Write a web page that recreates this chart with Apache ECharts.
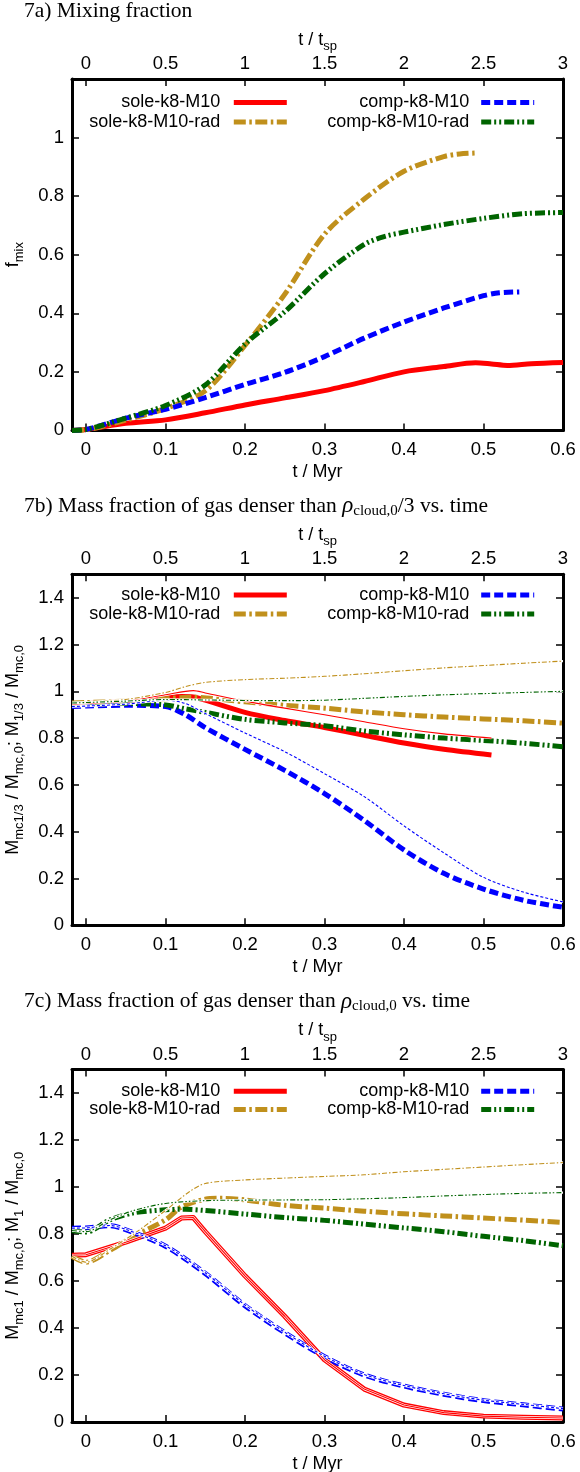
<!DOCTYPE html>
<html>
<head>
<meta charset="utf-8">
<script src="https://cdn.jsdelivr.net/npm/echarts@6/dist/echarts.min.js"></script>
<style>
  html, body { margin: 0; padding: 0; background: #fff; }
  #chart { width: 580px; height: 1472px; }
</style>
</head>
<body>
<div id="chart"></div>
<script>
// ---- axis values --------------------------------------------------------
const tMin = -0.0176, tMax = 0.6;      // t / Myr
const tspMin = -0.088, tspMax = 3;     // t / t_sp  (t_sp = 0.2 Myr)
const myrTicks = [0, 0.1, 0.2, 0.3, 0.4, 0.5, 0.6];
const tspTicks = [0, 0.5, 1, 1.5, 2, 2.5, 3];
const fracTicksA = [0, 0.2, 0.4, 0.6, 0.8, 1];
const fracTicksBC = [0, 0.2, 0.4, 0.6, 0.8, 1, 1.2, 1.4];

const runNames = ['sole-k8-M10', 'sole-k8-M10-rad', 'comp-k8-M10', 'comp-k8-M10-rad'];

// ---- 7a) mixing fraction -----------------------------------------------
const a_t_sole    = [-0.0176, 0, 0.05, 0.1, 0.15, 0.2, 0.25, 0.3, 0.35, 0.4, 0.45, 0.49, 0.51, 0.53, 0.56, 0.6];
const a_f_sole    = [0, 0.003, 0.024, 0.036, 0.06, 0.087, 0.111, 0.136, 0.167, 0.2, 0.218, 0.231, 0.227, 0.222, 0.228, 0.232];
const a_t_soleRad = [-0.0176, 0, 0.05, 0.1, 0.15, 0.2, 0.25, 0.3, 0.35, 0.4, 0.45, 0.47, 0.49];
const a_f_soleRad = [0, 0.002, 0.035, 0.075, 0.135, 0.29, 0.465, 0.67, 0.79, 0.885, 0.935, 0.944, 0.947];
const a_t_comp    = [-0.0176, 0, 0.05, 0.1, 0.15, 0.2, 0.25, 0.3, 0.35, 0.4, 0.45, 0.5, 0.52, 0.545];
const a_f_comp    = [0, 0.003, 0.042, 0.072, 0.112, 0.157, 0.198, 0.252, 0.315, 0.37, 0.418, 0.46, 0.47, 0.473];
const a_t_compRad = [-0.0176, 0, 0.05, 0.1, 0.15, 0.2, 0.25, 0.3, 0.35, 0.375, 0.4, 0.45, 0.5, 0.55, 0.6];
const a_f_compRad = [0, 0.003, 0.042, 0.085, 0.155, 0.295, 0.405, 0.535, 0.635, 0.662, 0.677, 0.703, 0.724, 0.74, 0.744];

// ---- 7b) gas denser than rho_cloud,0 / 3 (thick: M_mc1/3, thin: M_1/3) --
const b_t_sole       = [-0.0176, 0, 0.05, 0.1, 0.12, 0.135, 0.15, 0.2, 0.25, 0.3, 0.35, 0.4, 0.45, 0.51];
const b_f_sole       = [0.945, 0.948, 0.955, 0.972, 0.978, 0.976, 0.962, 0.91, 0.875, 0.845, 0.812, 0.779, 0.752, 0.728];
const b_t_sole1      = [-0.0176, 0, 0.05, 0.1, 0.135, 0.15, 0.2, 0.25, 0.3, 0.35, 0.4, 0.45, 0.51];
const b_f_sole1      = [0.945, 0.948, 0.958, 0.985, 1.003, 0.993, 0.958, 0.928, 0.9, 0.87, 0.84, 0.818, 0.8];
const b_t_soleRad    = [-0.0176, 0, 0.05, 0.1, 0.13, 0.2, 0.25, 0.3, 0.35, 0.4, 0.45, 0.5, 0.55, 0.6];
const b_f_soleRad    = [0.95, 0.952, 0.958, 0.968, 0.975, 0.955, 0.94, 0.928, 0.912, 0.9, 0.89, 0.882, 0.874, 0.864];
const b_t_soleRad1   = [-0.0176, 0, 0.05, 0.1, 0.125, 0.15, 0.2, 0.25, 0.3, 0.35, 0.4, 0.45, 0.5, 0.55, 0.6];
const b_f_soleRad1   = [0.95, 0.953, 0.965, 0.995, 1.02, 1.038, 1.05, 1.056, 1.064, 1.075, 1.088, 1.1, 1.11, 1.12, 1.129];
const b_t_comp       = [-0.0176, 0, 0.05, 0.1, 0.125, 0.15, 0.2, 0.25, 0.3, 0.35, 0.4, 0.45, 0.5, 0.55, 0.6];
const b_f_comp       = [0.935, 0.937, 0.94, 0.935, 0.9, 0.845, 0.752, 0.662, 0.563, 0.448, 0.322, 0.222, 0.155, 0.107, 0.077];
const b_t_comp1      = [-0.0176, 0, 0.05, 0.1, 0.125, 0.15, 0.2, 0.25, 0.3, 0.35, 0.4, 0.45, 0.5, 0.55, 0.6];
const b_f_comp1      = [0.935, 0.937, 0.945, 0.962, 0.948, 0.905, 0.822, 0.742, 0.648, 0.55, 0.425, 0.31, 0.205, 0.142, 0.1];
const b_t_compRad    = [-0.0176, 0, 0.05, 0.1, 0.125, 0.15, 0.2, 0.25, 0.3, 0.35, 0.4, 0.45, 0.5, 0.55, 0.6];
const b_f_compRad    = [0.945, 0.946, 0.948, 0.942, 0.925, 0.91, 0.88, 0.865, 0.853, 0.83, 0.814, 0.8, 0.79, 0.778, 0.763];
const b_t_compRad1   = [-0.0176, 0, 0.05, 0.1, 0.15, 0.2, 0.25, 0.3, 0.35, 0.4, 0.45, 0.5, 0.55, 0.6];
const b_f_compRad1   = [0.95, 0.952, 0.958, 0.965, 0.963, 0.961, 0.96, 0.962, 0.97, 0.978, 0.985, 0.99, 0.995, 1.0];

// ---- 7c) gas denser than rho_cloud,0 (thick: M_mc1, thin: M_1) -----------
const c_t_sole       = [-0.0176, 0, 0.05, 0.1, 0.12, 0.135, 0.15, 0.2, 0.25, 0.3, 0.35, 0.4, 0.45, 0.5, 0.55, 0.6];
const c_f_sole       = [0.71, 0.712, 0.765, 0.825, 0.868, 0.87, 0.81, 0.622, 0.45, 0.265, 0.14, 0.072, 0.04, 0.025, 0.02, 0.017];
const c_t_sole1      = [-0.0176, 0, 0.05, 0.1, 0.12, 0.135, 0.15, 0.2, 0.25, 0.3, 0.35, 0.4, 0.45, 0.5, 0.55, 0.6];
const c_f_sole1      = [0.71, 0.712, 0.765, 0.825, 0.868, 0.87, 0.81, 0.622, 0.45, 0.265, 0.14, 0.072, 0.04, 0.025, 0.02, 0.017];
const c_t_soleRad    = [-0.0176, 0, 0.03, 0.06, 0.1, 0.12, 0.15, 0.17, 0.2, 0.25, 0.3, 0.35, 0.4, 0.45, 0.5, 0.55, 0.6];
const c_f_soleRad    = [0.705, 0.68, 0.73, 0.79, 0.86, 0.915, 0.948, 0.952, 0.945, 0.922, 0.91, 0.897, 0.886, 0.877, 0.868, 0.859, 0.849];
const c_t_soleRad1   = [-0.0176, 0, 0.03, 0.06, 0.1, 0.13, 0.15, 0.2, 0.25, 0.3, 0.35, 0.4, 0.45, 0.5, 0.55, 0.6];
const c_f_soleRad1   = [0.705, 0.68, 0.735, 0.8, 0.9, 0.98, 1.015, 1.03, 1.038, 1.045, 1.052, 1.065, 1.075, 1.085, 1.095, 1.104];
const c_t_comp       = [-0.0176, 0, 0.03, 0.05, 0.1, 0.15, 0.2, 0.25, 0.3, 0.35, 0.4, 0.45, 0.5, 0.55, 0.6];
const c_f_comp       = [0.825, 0.826, 0.835, 0.818, 0.748, 0.632, 0.495, 0.38, 0.278, 0.2, 0.153, 0.118, 0.091, 0.073, 0.055];
const c_t_comp1      = [-0.0176, 0, 0.03, 0.05, 0.1, 0.15, 0.2, 0.25, 0.3, 0.35, 0.4, 0.45, 0.5, 0.55, 0.6];
const c_f_comp1      = [0.825, 0.826, 0.836, 0.82, 0.75, 0.635, 0.498, 0.382, 0.28, 0.202, 0.155, 0.12, 0.093, 0.075, 0.057];
const c_t_compRad    = [-0.0176, 0, 0.03, 0.06, 0.1, 0.125, 0.15, 0.2, 0.25, 0.3, 0.35, 0.4, 0.45, 0.5, 0.55, 0.6];
const c_f_compRad    = [0.815, 0.808, 0.86, 0.89, 0.903, 0.905, 0.9, 0.885, 0.87, 0.858, 0.842, 0.826, 0.81, 0.79, 0.772, 0.75];
const c_t_compRad1   = [-0.0176, 0, 0.03, 0.06, 0.1, 0.15, 0.2, 0.25, 0.3, 0.35, 0.4, 0.45, 0.5, 0.55, 0.6];
const c_f_compRad1   = [0.815, 0.81, 0.86, 0.9, 0.93, 0.942, 0.944, 0.945, 0.946, 0.95, 0.955, 0.962, 0.968, 0.973, 0.976];

// ---- styling ------------------------------------------------------------
const SANS = '"Liberation Sans", Arial, Helvetica, sans-serif';
const SERIF = '"Liberation Serif", "Times New Roman", serif';
const INK = '#000';

// colour and dash pattern per run: [thick, thin]
const RUN_STYLE = [
  { color: '#ff0000', dash: ['solid', 'solid'] },
  { color: '#c0901c', dash: [[12, 3.5, 2.5, 3.5], [5, 2, 1.5, 2]] },
  { color: '#0000ff', dash: [[9, 4], [3, 2]] },
  { color: '#006400', dash: [[10, 3, 2, 3, 2, 3], [5, 2, 1.5, 2, 1.5, 2]] }
];

const panels = [
  {
    title: '7a) Mixing fraction',
    top: 79, height: 351.4, yMax: 1.2, yTicks: fracTicksA,
    yName: 'f{s|mix}', legendRows: [23.5, 43],
    thick: [[a_t_sole, a_f_sole], [a_t_soleRad, a_f_soleRad], [a_t_comp, a_f_comp], [a_t_compRad, a_f_compRad]],
    thin: null
  },
  {
    title: '7b) Mass fraction of gas denser than {r|ρ}{c|cloud,0}/3 vs. time',
    top: 574.3, height: 351, yMax: 1.5, yTicks: fracTicksBC,
    yName: 'M{s|mc1/3} / M{s|mc,0}; M{s|1/3} / M{s|mc,0}', legendRows: [20.7, 39.7],
    thick: [[b_t_sole, b_f_sole], [b_t_soleRad, b_f_soleRad], [b_t_comp, b_f_comp], [b_t_compRad, b_f_compRad]],
    thin: [[b_t_sole1, b_f_sole1], [b_t_soleRad1, b_f_soleRad1], [b_t_comp1, b_f_comp1], [b_t_compRad1, b_f_compRad1]]
  },
  {
    title: '7c) Mass fraction of gas denser than {r|ρ}{c|cloud,0} vs. time',
    top: 1069.5, height: 352.5, yMax: 1.5, yTicks: fracTicksBC,
    yName: 'M{s|mc1} / M{s|mc,0}; M{s|1} / M{s|mc,0}', legendRows: [21.7, 40],
    thick: [[c_t_sole, c_f_sole], [c_t_soleRad, c_f_soleRad], [c_t_comp, c_f_comp], [c_t_compRad, c_f_compRad]],
    thin: [[c_t_sole1, c_f_sole1], [c_t_soleRad1, c_f_soleRad1], [c_t_comp1, c_f_comp1], [c_t_compRad1, c_f_compRad1]]
  }
];

const PLOT_LEFT = 72, PLOT_RIGHT = 17;

const subRich = {
  s: { fontFamily: SANS, fontSize: 13, lineHeight: 12, verticalAlign: 'bottom', color: INK }
};

function frameLine() {
  return { show: true, onZero: false, lineStyle: { color: INK, width: 3 } };
}
function innerTicks(values) {
  return { show: true, inside: true, length: 7, customValues: values, lineStyle: { color: INK, width: 1.5 } };
}
function tickLabels(values, margin) {
  return {
    show: true, customValues: values, margin: margin,
    fontFamily: SANS, fontSize: 18.5, lineHeight: 20, color: INK
  };
}

const grid = [], xAxis = [], yAxis = [], series = [], legend = [], title = [];

panels.forEach((p, gi) => {
  grid.push({
    left: PLOT_LEFT, right: PLOT_RIGHT, top: p.top, height: p.height,
    containLabel: false, outerBoundsMode: 'none'
  });

  // bottom: t / Myr
  xAxis.push({
    type: 'value', gridIndex: gi, position: 'bottom', min: tMin, max: tMax,
    axisLine: frameLine(), axisTick: innerTicks(myrTicks), axisLabel: tickLabels(myrTicks, 10),
    splitLine: { show: false },
    name: 't / Myr', nameLocation: 'middle', nameGap: 29,
    nameTextStyle: { fontFamily: SANS, fontSize: 18, lineHeight: 22, color: INK }
  });
  // top: t / t_sp
  xAxis.push({
    type: 'value', gridIndex: gi, position: 'top', min: tspMin, max: tspMax,
    axisLine: frameLine(), axisTick: innerTicks(tspTicks), axisLabel: tickLabels(tspTicks, 5),
    splitLine: { show: false },
    name: 't / t{s|sp}', nameLocation: 'middle', nameGap: 26,
    nameTextStyle: { fontFamily: SANS, fontSize: 18, lineHeight: 26, color: INK, rich: subRich }
  });
  // left: fraction
  yAxis.push({
    type: 'value', gridIndex: gi, position: 'left', min: 0, max: p.yMax,
    axisLine: frameLine(), axisTick: innerTicks(p.yTicks), axisLabel: tickLabels(p.yTicks, 8),
    splitLine: { show: false },
    name: p.yName, nameLocation: 'middle', nameGap: 46, nameRotate: 90,
    nameTextStyle: { fontFamily: SANS, fontSize: 18, lineHeight: 26, color: INK, rich: subRich }
  });
  // right: mirrored ticks
  yAxis.push({
    type: 'value', gridIndex: gi, position: 'right', min: 0, max: p.yMax,
    axisLine: frameLine(), axisTick: innerTicks(p.yTicks), axisLabel: { show: false },
    splitLine: { show: false }
  });

  const xi = gi * 2, yi = gi * 2;
  const mk = (name, t, f, color, width, dash, smooth) => ({
    type: 'line', name: name, xAxisIndex: xi, yAxisIndex: yi,
    data: t.map((x, i) => [x, f[i]]),
    symbol: 'none', showSymbol: false, smooth: smooth, silent: true,
    lineStyle: { color: color, width: width, type: dash, cap: 'butt', join: 'round' },
    itemStyle: { color: color },
    emphasis: { disabled: true }
  });
  const smoothFor = (run) => (gi === 2 && run === 0) ? false : 0.3;

  // thick curves (legend entries)
  p.thick.forEach(([t, f], run) => {
    const st = RUN_STYLE[run];
    series.push(mk(runNames[run], t, f, st.color, 5, st.dash[0], smoothFor(run)));
  });
  // thin curves, each drawn over a white underlay
  if (p.thin) {
    p.thin.forEach(([t, f], run) => {
      const st = RUN_STYLE[run];
      series.push(mk(runNames[run] + ' underlay ' + gi, t, f, '#ffffff', 2.4, 'solid', smoothFor(run)));
      series.push(mk(runNames[run] + ' total ' + gi, t, f, st.color, 1.1, st.dash[1], smoothFor(run)));
    });
  }

  // legend: two columns, text right-aligned against the line sample
  const colRight = [290.7, 43.3];
  const textPad = [8.5, 7];
  runNames.forEach((nm, run) => {
    const col = run < 2 ? 0 : 1;
    const row = run % 2;
    legend.push({
      data: [{ name: nm }],
      right: colRight[col], top: p.top + p.legendRows[row] - 10,
      align: 'right', orient: 'horizontal', padding: 0,
      itemWidth: 53, itemHeight: 14, selectedMode: false,
      textStyle: { fontFamily: SANS, fontSize: 18, lineHeight: 20, color: INK, padding: [0, textPad[col], 0, 0] },
      lineStyle: { width: 5 },
      itemStyle: { opacity: 0, borderWidth: 0 }
    });
  });

  title.push({
    text: p.title, left: 24, top: p.top - 69 - 11, padding: 0,
    textStyle: {
      fontFamily: SERIF, fontSize: 21.5, fontWeight: 'normal', lineHeight: 24, color: INK,
      rich: {
        r: { fontFamily: SERIF, fontSize: 23, fontStyle: 'italic', lineHeight: 24, color: INK },
        c: { fontFamily: SERIF, fontSize: 15, lineHeight: 12, verticalAlign: 'bottom', color: INK }
      }
    }
  });
});

const chart = echarts.init(document.getElementById('chart'), null, { renderer: 'canvas' });
chart.setOption({
  backgroundColor: '#ffffff',
  animation: false,
  title: title,
  legend: legend,
  grid: grid,
  xAxis: xAxis,
  yAxis: yAxis,
  series: series
});
</script>
</body>
</html>
